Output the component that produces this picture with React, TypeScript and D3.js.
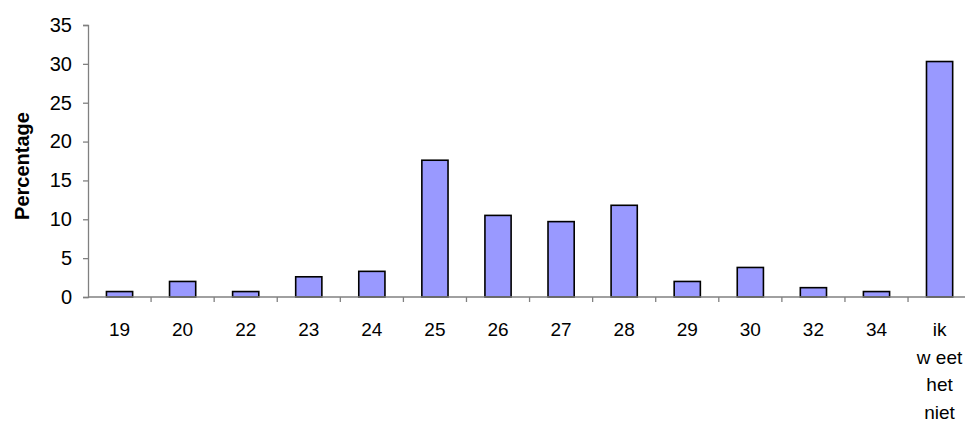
import { useEffect, useRef } from 'react'
import * as d3 from 'd3'

const categories = ['19', '20', '22', '23', '24', '25', '26', '27', '28', '29', '30', '32', '34', 'ik weet het niet']
const labelLines = [['19'], ['20'], ['22'], ['23'], ['24'], ['25'], ['26'], ['27'], ['28'], ['29'], ['30'], ['32'], ['34'], ['ik', 'w eet', 'het', 'niet']]
const percentages = [0.7, 2.0, 0.7, 2.6, 3.3, 17.6, 10.5, 9.7, 11.8, 2.0, 3.8, 1.2, 0.7, 30.3]
const yTicks = [0, 5, 10, 15, 20, 25, 30, 35]

export default function App() {
  const svgRef = useRef<SVGSVGElement>(null)

  useEffect(() => {
    if (!svgRef.current) return
    const svg = d3.select(svgRef.current)
    svg.selectAll('*').remove()

    const left = 88
    const step = 63.08
    const top = 25
    const bottom = 297
    const font = 'Liberation Sans, Arial, sans-serif'

    const x = d3.scaleBand<string>()
      .domain(categories)
      .range([left, left + step * categories.length])
      .padding(0)

    const y = d3.scaleLinear().domain([0, 35]).range([bottom, top])

    const barW = x.bandwidth() * 0.415

    // bars
    svg.append('g')
      .selectAll('rect')
      .data(percentages)
      .join('rect')
      .attr('x', (d, i) => x(categories[i])! + (x.bandwidth() - barW) / 2)
      .attr('y', d => y(d))
      .attr('width', barW)
      .attr('height', d => y(0) - y(d))
      .attr('fill', '#9999ff')
      .attr('stroke', '#000')
      .attr('stroke-width', 1.6)

    // y axis
    svg.append('g')
      .attr('transform', `translate(${left},0)`)
      .call(d3.axisLeft(y).tickValues(yTicks).tickSize(5).tickPadding(11).tickFormat(d3.format('d')))
      .call(g => g.select('.domain').attr('stroke', '#808080').attr('stroke-width', 1.3))
      .call(g => g.selectAll('line').attr('stroke', '#808080').attr('stroke-width', 1.3))
      .call(g => g.selectAll('text').attr('fill', '#000').attr('font-size', '20px').attr('font-family', font))

    // x axis line and ticks between categories
    svg.append('line')
      .attr('x1', left)
      .attr('x2', left + step * categories.length)
      .attr('y1', y(0))
      .attr('y2', y(0))
      .attr('stroke', '#808080')
      .attr('stroke-width', 1.3)

    svg.append('g')
      .selectAll('line')
      .data(categories)
      .join('line')
      .attr('x1', d => x(d)! + x.bandwidth())
      .attr('x2', d => x(d)! + x.bandwidth())
      .attr('y1', y(0))
      .attr('y2', y(0) + 5)
      .attr('stroke', '#808080')
      .attr('stroke-width', 1.3)

    // category labels
    const labels = svg.append('g')
      .selectAll('text')
      .data(categories)
      .join('text')
      .attr('x', d => x(d)! + x.bandwidth() / 2)
      .attr('y', 336)
      .attr('text-anchor', 'middle')
      .attr('font-size', '19px')
      .attr('font-family', font)
      .attr('fill', '#000')

    labels.each(function (d, i) {
      const t = d3.select(this)
      labelLines[i].forEach((line, j) => {
        t.append('tspan')
          .attr('x', x(d)! + x.bandwidth() / 2)
          .attr('dy', j === 0 ? 0 : 27.6)
          .text(line)
      })
    })

    // y axis title
    svg.append('text')
      .attr('transform', `translate(${29},${166}) rotate(-90)`)
      .attr('text-anchor', 'middle')
      .attr('font-size', '20px')
      .attr('font-weight', 'bold')
      .attr('font-family', font)
      .text('Percentage')
  }, [])

  return (
    <div style={{ position: 'fixed', left: 0, top: 0, width: 965, height: 426, background: '#fff' }}>
      <svg ref={svgRef} width={965} height={426} style={{ display: 'block' }} />
    </div>
  )
}
